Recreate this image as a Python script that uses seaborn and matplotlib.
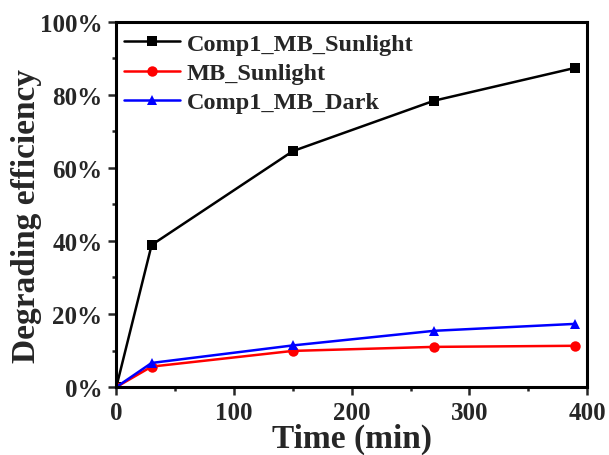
import matplotlib
matplotlib.use("Agg")
import matplotlib.pyplot as plt
import seaborn as sns
import pandas as pd
from matplotlib.ticker import MultipleLocator, FuncFormatter

time_min = [0, 30, 150, 270, 390]
comp1_mb_sunlight = [0, 38.9, 64.6, 78.4, 87.4]
mb_sunlight = [0, 5.6, 9.9, 11.0, 11.3]
comp1_mb_dark = [0, 6.6, 11.4, 15.4, 17.3]
series_names = ["Comp1_MB_Sunlight", "MB_Sunlight", "Comp1_MB_Dark"]

sns.set_style("ticks")
plt.rcParams['font.family'] = ['Liberation Serif', 'DejaVu Serif']
plt.rcParams['font.weight'] = 'bold'

rows = []
for name, vals in zip(series_names, [comp1_mb_sunlight, mb_sunlight, comp1_mb_dark]):
    for t, v in zip(time_min, vals):
        rows.append({"Time": t, "Eff": v, "Series": name})
df = pd.DataFrame(rows)

fig = plt.figure(figsize=(6.09, 4.56), dpi=100)
ax = fig.add_axes([0.191, 0.149, 0.773, 0.801])

palette = {"Comp1_MB_Sunlight": "#000000", "MB_Sunlight": "#ff0000", "Comp1_MB_Dark": "#0000ff"}
markers = {"Comp1_MB_Sunlight": "s", "MB_Sunlight": "o", "Comp1_MB_Dark": "^"}
sns.lineplot(data=df, x="Time", y="Eff", hue="Series", style="Series",
             palette=palette, markers=markers, dashes=False, markersize=7.5,
             markeredgewidth=0, linewidth=1.8, ax=ax)

ax.set_xlim(0, 400)
ax.set_ylim(0, 100)
ax.xaxis.set_major_locator(MultipleLocator(100))
ax.xaxis.set_minor_locator(MultipleLocator(50))
ax.yaxis.set_major_locator(MultipleLocator(20))
ax.yaxis.set_minor_locator(MultipleLocator(10))
ax.yaxis.set_major_formatter(FuncFormatter(lambda v, p: f"{int(v)}%"))
ax.tick_params(which='major', length=6, width=1.8, labelsize=18, direction='out', pad=4)
ax.tick_params(which='minor', length=3, width=1.8, direction='out')
for lab in ax.get_xticklabels() + ax.get_yticklabels():
    lab.set_fontweight('bold')
for s in ax.spines.values():
    s.set_visible(True)
    s.set_linewidth(2.2)
    s.set_color('black')

ax.set_xlabel("Time (min)", fontsize=24, fontweight='bold', labelpad=-1)
ax.set_ylabel("Degrading efficiency", fontsize=24, fontweight='bold')
ax.yaxis.set_label_coords(-0.158, 0.47)

leg = ax.legend(loc='upper left', bbox_to_anchor=(0.0, 0.99), frameon=False, fontsize=17.5,
                handlelength=2.3, borderpad=0, borderaxespad=0.3, labelspacing=0.3,
                handletextpad=0.3)
for t in leg.get_texts():
    t.set_fontweight('bold')

fig.savefig("out.png", dpi=100)
